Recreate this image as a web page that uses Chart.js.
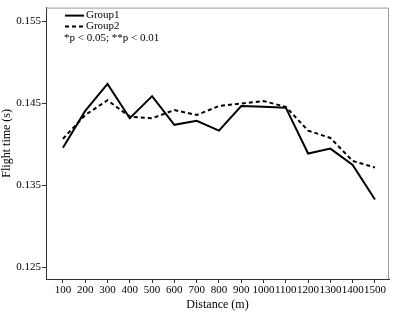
<!DOCTYPE html>
<html><head><meta charset="utf-8">
<script src="https://cdn.jsdelivr.net/npm/chart.js@4/dist/chart.umd.min.js"></script>
<style>html,body{margin:0;padding:0;background:#fff}#wrap{width:395px;height:312px;position:relative}</style>
</head><body><div id="wrap"><canvas id="c" width="395" height="312"></canvas></div>
<script>
const distances = [100,200,300,400,500,600,700,800,900,1000,1100,1200,1300,1400,1500];
const group1 = [0.1396,0.1441,0.1474,0.1432,0.1459,0.1424,0.1429,0.1417,0.1447,0.1446,0.1445,0.1389,0.1395,0.1375,0.1333];
const group2 = [0.1407,0.1436,0.1454,0.1434,0.1432,0.1442,0.1436,0.1447,0.1450,0.1453,0.1446,0.1417,0.1408,0.1380,0.1372];
const yTicks = [0.125,0.135,0.145,0.155];
const legendNote = "*p < 0.05; **p < 0.01";
const FONT = "'Liberation Serif','Times New Roman',serif";

const frame = {
  id:'frame',
  beforeDatasetsDraw(chart){
    const {ctx, chartArea:a} = chart;
    ctx.save();
    ctx.strokeStyle = '#9a9a9a'; ctx.lineWidth = 1;
    ctx.beginPath();
    ctx.moveTo(a.left, a.top+0.5); ctx.lineTo(a.right-0.5, a.top+0.5); ctx.lineTo(a.right-0.5, a.bottom);
    ctx.stroke();
    ctx.restore();
  },
  afterDraw(chart){
    const {ctx, chartArea:a} = chart;
    ctx.save();
    ctx.font = "11px " + FONT;
    ctx.fillStyle = '#000';
    ctx.textBaseline = 'middle';
    chart.data.datasets.forEach((ds,i)=>{
      const y = a.top + 8 + i*11;
      ctx.strokeStyle = ds.borderColor; ctx.lineWidth = 2;
      ctx.setLineDash(ds.borderDash || []);
      ctx.beginPath(); ctx.moveTo(a.left+19, y); ctx.lineTo(a.left+38, y); ctx.stroke();
      ctx.setLineDash([]);
      ctx.fillText(ds.label, a.left+40, y);
    });
    ctx.fillText(legendNote, a.left+18, a.top+31);
    ctx.restore();
  }
};

new Chart(document.getElementById('c'), {
  type:'line',
  data:{
    datasets:[
      {label:'Group1', data: distances.map((d,i)=>({x:d,y:group1[i]})), borderColor:'#000', borderWidth:2, pointRadius:0, tension:0, fill:false},
      {label:'Group2', data: distances.map((d,i)=>({x:d,y:group2[i]})), borderColor:'#000', borderWidth:2, borderDash:[4,3], pointRadius:0, tension:0, fill:false}
    ]
  },
  options:{
    responsive:false, animation:false, devicePixelRatio:1,
    layout:{padding:{top:3,right:6,left:0,bottom:0}},
    plugins:{legend:{display:false}, tooltip:{enabled:false}},
    scales:{
      x:{
        type:'linear', min:24, max:1563,
        afterBuildTicks(s){ s.ticks = distances.map(v=>({value:v})); },
        afterFit(s){ s.height = 33; },
        ticks:{autoSkip:false, maxRotation:0, minRotation:0, color:'#000', font:{family:FONT,size:11}, padding:1, callback:v=>String(v)},
        grid:{drawOnChartArea:false, drawTicks:true, tickLength:4, color:'#333'},
        border:{color:'#333', width:1},
        title:{display:true, text:'Distance (m)', color:'#000', font:{family:FONT,size:12}, padding:{top:0,bottom:0}}
      },
      y:{
        type:'linear', min:0.1236, max:0.1567,
        afterBuildTicks(s){ s.ticks = yTicks.map(v=>({value:v})); },
        afterFit(s){ s.width = 46; },
        ticks:{color:'#000', font:{family:FONT,size:11}, padding:1, callback:v=>v.toFixed(3)},
        grid:{drawOnChartArea:false, drawTicks:true, tickLength:4, color:'#333'},
        border:{color:'#333', width:1},
        title:{display:true, text:'Flight time (s)', color:'#000', font:{family:FONT,size:12}, padding:{top:0,bottom:0}}
      }
    }
  },
  plugins:[frame]
});
</script></body></html>
